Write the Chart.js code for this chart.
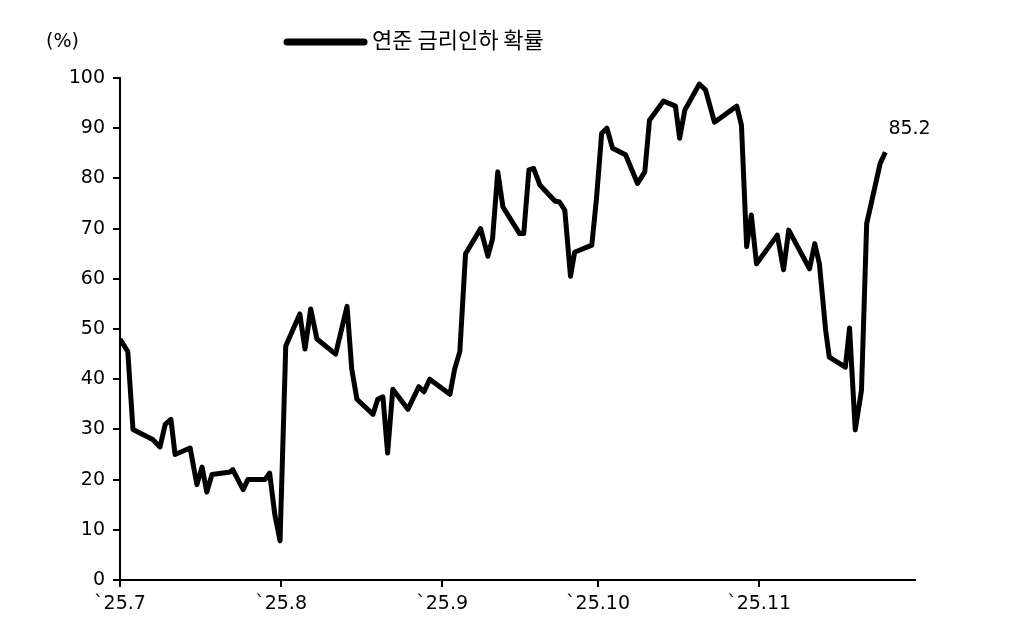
<!DOCTYPE html>
<html><head><meta charset="utf-8">
<script src="https://cdn.jsdelivr.net/npm/chart.js@4"></script>
<style>body{margin:0;background:#fff}#w{width:1020px;height:639px}</style>
</head><body><div id="w"><canvas id="c"></canvas></div>
<script>
const seriesName = '연준 금리인하 확률';
const days = [0,1.5,2.5,6.3,7.7,8.7,9.8,10.6,13.5,14.8,15.8,16.7,17.7,21.2,21.7,23.7,24.6,27.9,28.8,29.8,30.8,31.9,34.6,35.6,36.7,37.9,41.5,43.7,44.6,45.6,48.7,49.6,50.6,51.5,52.5,55.4,57.5,58.5,59.6,63.5,64.4,65.4,66.5,69.4,70.8,71.7,72.7,73.7,76.9,77.7,78.7,79.6,80.8,83.7,84.6,85.6,86.7,87.5,90.8,91.7,92.7,93.7,94.8,97.3,99.6,101,101.9,104.6,106.9,107.7,108.7,111.5,112.7,114.4,118.7,119.6,120.6,121.5,122.5,126.5,127.7,128.7,132.7,133.7,134.6,135.8,136.5,139.6,140.4,141.5,142.7,143.7,146.3,147.3];
const probs = [48,45.5,30,28,26.5,31,32,25,26.3,19,22.5,17.5,21,21.5,22,18,20,20,21.3,13,7.8,46.6,53,46,54,48,45,54.5,42,36,33,36,36.5,25.3,38,34,38.5,37.5,40,37,42,45.5,65,70,64.5,68,81.3,74.3,69,69,81.7,82,78.7,75.5,75.3,73.7,60.5,65.3,66.7,76,89,90,86,84.7,79,81.3,91.6,95.4,94.4,88,93.6,98.8,97.6,91.2,94.4,90.6,66.4,72.7,63,68.7,61.8,69.7,62,67,63,49.8,44.4,42.4,50.2,29.9,37.8,71,83,85.2];
const xTickDays = [0,31,62,92,123];
const xTickLabels = ['`25.7','`25.8','`25.9','`25.10','`25.11'];
const yTicks = [0,10,20,30,40,50,60,70,80,90,100];
const FONT = '"DejaVu Sans","Noto Sans CJK KR",sans-serif';
const KFONT = '"Noto Sans CJK KR",sans-serif';

const deco = {
  id:'deco',
  afterDraw(ch){
    const c = ch.ctx, xs = ch.scales.x, ys = ch.scales.y;
    c.save();
    c.fillStyle='#000';
    c.font = '19px '+FONT;
    c.textBaseline='middle';
    c.textAlign='left';
    c.fillText('(%)', 46, 42);
    c.strokeStyle='#000'; c.lineWidth=7; c.lineCap='round';
    c.beginPath(); c.moveTo(287,42); c.lineTo(364,42); c.stroke();
    c.font = '22px '+KFONT;
    c.fillText(seriesName, 372, 40);
    c.font = '19px '+FONT;
    const i = probs.length-1;
    c.fillText(String(probs[i]), xs.getPixelForValue(days[i])+3, ys.getPixelForValue(probs[i])-23);
    c.restore();
  }
};

new Chart(document.getElementById('c'), {
  type:'line',
  data:{datasets:[{label:seriesName, data:days.map((d,i)=>({x:d,y:probs[i]})),
    borderColor:'#000', borderWidth:5, pointRadius:0, tension:0, borderJoinStyle:'round'}]},
  options:{
    responsive:true, maintainAspectRatio:false, animation:false,
    layout:{padding:{top:78,right:105,left:0,bottom:0}},
    plugins:{legend:{display:false},tooltip:{enabled:false}},
    scales:{
      x:{type:'linear', min:0, max:153,
        afterBuildTicks(s){ s.ticks = xTickDays.map(v=>({value:v})); },
        afterFit(s){ s.height = 59; },
        ticks:{autoSkip:false, maxRotation:0, color:'#000', font:{family:FONT,size:19}, padding:6,
          callback:(v)=>xTickLabels[xTickDays.indexOf(v)]},
        grid:{drawOnChartArea:false, color:'#000', lineWidth:2, tickLength:7},
        border:{color:'#000', width:2}},
      y:{min:0, max:100,
        afterBuildTicks(s){ s.ticks = yTicks.map(v=>({value:v})); },
        afterFit(s){ s.width = 120; },
        ticks:{color:'#000', font:{family:FONT,size:19}, padding:8},
        grid:{drawOnChartArea:false, color:'#000', lineWidth:2, tickLength:7},
        border:{color:'#000', width:2}}
    }
  },
  plugins:[deco]
});
</script></body></html>
